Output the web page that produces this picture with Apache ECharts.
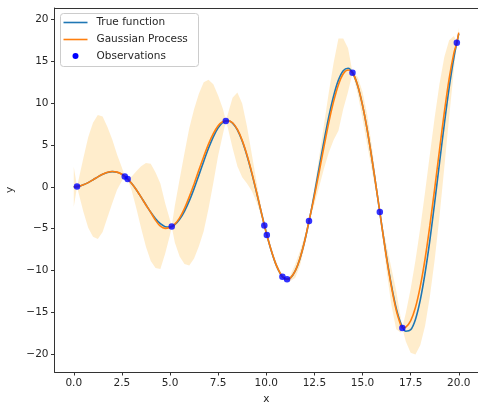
<!DOCTYPE html>
<html><head><meta charset="utf-8">
<script src="https://cdn.jsdelivr.net/npm/echarts@6/dist/echarts.min.js"></script>
<style>html,body{margin:0;padding:0;background:#fff}#c{width:478px;height:406px}</style>
</head><body><div id="c"></div>
<script>
// True function samples
const trueX = [0,0.25,0.5,0.75,1,1.25,1.5,1.75,2,2.25,2.5,2.75,3,3.25,3.5,3.75,4,4.25,4.5,4.75,5,5.25,5.5,5.75,6,6.25,6.5,6.75,7,7.25,7.5,7.75,8,8.25,8.5,8.75,9,9.25,9.5,9.75,10,10.25,10.5,10.75,11,11.25,11.5,11.75,12,12.25,12.5,12.75,13,13.25,13.5,13.75,14,14.25,14.5,14.75,15,15.25,15.5,15.75,16,16.25,16.5,16.75,17,17.25,17.5,17.75,18,18.25,18.5,18.75,19,19.25,19.5,19.75,20];
const trueY = [0,0.06,0.24,0.51,0.84,1.19,1.50,1.72,1.82,1.75,1.50,1.05,0.42,-0.35,-1.23,-2.14,-3.03,-3.80,-4.40,-4.75,-4.79,-4.51,-3.88,-2.92,-1.68,-0.21,1.40,3.04,4.60,5.97,7.04,7.71,7.92,7.61,6.79,5.47,3.71,1.61,-0.71,-3.12,-5.44,-7.53,-9.24,-10.43,-11.00,-10.89,-10.07,-8.57,-6.44,-3.81,-0.83,2.33,5.46,8.37,10.85,12.74,13.87,14.16,13.56,12.07,9.75,6.75,3.20,-0.66,-4.61,-8.39,-11.74,-14.48,-16.34,-17.24,-17.07,-15.82,-13.52,-10.31,-6.35,-1.86,2.85,7.50,11.81,15.47,18.26];

// Gaussian process prediction and its confidence band
const gpX = [0,0.17,0.25,0.5,0.75,1,1.25,1.5,1.75,2,2.25,2.5,2.65,2.75,2.8,3,3.25,3.5,3.75,4,4.25,4.5,4.75,5,5.09,5.25,5.5,5.75,6,6.25,6.5,6.75,7,7.25,7.5,7.75,7.9,8,8.25,8.5,8.75,9,9.25,9.5,9.75,9.9,10.03,10.25,10.5,10.75,10.84,11,11.08,11.25,11.5,11.75,12,12.22,12.5,12.75,13,13.25,13.5,13.75,14,14.25,14.48,14.75,15,15.25,15.5,15.75,15.9,16,16.25,16.5,16.75,17,17.07,17.25,17.5,17.75,18,18.25,18.5,18.75,19,19.25,19.5,19.75,19.9,20];
const gpMean = [0,0.03,0.06,0.24,0.51,0.84,1.19,1.50,1.74,1.84,1.76,1.50,1.25,1.05,0.94,0.42,-0.35,-1.23,-2.16,-3.05,-4.0,-4.7,-4.95,-4.85,-4.72,-4.45,-3.7,-2.6,-1.2,0.35,2.0,3.6,5.1,6.35,7.3,7.8,7.86,7.88,7.65,6.85,5.55,3.8,1.7,-0.65,-3.1,-4.6,-5.75,-7.5,-9.22,-10.43,-10.72,-11.0,-11.04,-10.9,-10.07,-8.55,-6.44,-4.08,-1.1,1.8,4.8,7.7,10.2,12.2,13.5,13.95,13.62,12.1,9.75,6.75,3.2,-0.66,-3.0,-4.65,-8.5,-11.9,-14.7,-16.6,-16.85,-16.75,-16.0,-14.4,-11.9,-8.6,-4.6,-0.2,4.4,8.9,12.9,16.0,17.2,18.4];
const gpLower = [-2.4,-0.02,-0.74,-2.96,-4.89,-5.96,-6.21,-5.4,-3.66,-1.96,-0.34,0.7,1.2,1.0,0.89,-0.38,-2.55,-4.93,-7.16,-8.85,-9.7,-9.8,-7.95,-5.75,-4.77,-6.65,-8.3,-9.2,-9.4,-8.55,-7.1,-5.3,-2.6,0.45,3.7,6.3,7.81,7.08,4.65,2.45,1.15,0.4,-0.5,-1.85,-3.6,-4.65,-5.8,-7.8,-9.62,-10.63,-10.77,-11.05,-11.09,-11.25,-10.87,-9.45,-7.04,-4.13,-2.1,0.0,2.2,4.1,5.6,6.7,9.3,11.35,13.57,11.1,8.15,4.95,1.8,-1.26,-3.05,-5.15,-10.0,-14.1,-17.0,-17.4,-16.9,-18.45,-19.8,-20.0,-18.9,-16.6,-13.1,-8.7,-3.5,2.3,8.3,14.0,17.15,17.8];
const gpUpper = [2.4,0.08,0.86,3.44,5.91,7.64,8.59,8.4,7.14,5.64,3.86,2.3,1.3,1.1,0.99,1.22,1.85,2.47,2.84,2.75,1.7,0.4,-1.95,-3.95,-4.67,-2.25,0.9,4.0,7.0,9.25,11.1,12.5,12.8,12.25,10.9,9.3,7.91,8.68,10.65,11.25,9.95,7.2,3.9,0.55,-2.6,-4.55,-5.7,-7.2,-8.82,-10.23,-10.67,-10.95,-10.99,-10.55,-9.27,-7.65,-5.84,-4.03,-0.1,3.6,7.4,11.3,14.8,17.7,17.7,16.55,13.67,13.1,11.35,8.55,4.6,-0.06,-2.95,-4.15,-7.0,-9.7,-12.4,-15.8,-16.8,-15.05,-12.2,-8.8,-4.9,-0.6,3.9,8.3,12.3,15.5,17.5,18.0,17.25,19.0];

// Observations
const obsX = [0.17,2.65,2.8,5.09,7.9,9.9,10.03,10.84,11.08,12.22,14.48,15.9,17.07,19.9];
const obsY = [0.03,1.25,0.94,-4.72,7.86,-4.6,-5.75,-10.72,-11.04,-4.08,13.62,-3.0,-16.85,17.2];

// Ticks and labels
const xTicks = [0,2.5,5,7.5,10,12.5,15,17.5,20];
const yTicks = [-20,-15,-10,-5,0,5,10,15,20];
const legendLabels = ['True function','Gaussian Process','Observations'];

const FONT = 'DejaVu Sans';
const FS = 10.5;
const TXT = '#262626';
const sgn = s => s.replace('-', '\u2212');

const chart = echarts.init(document.getElementById('c'), null, {renderer: 'canvas'});

const band = gpX.map((x, i) => [x, gpLower[i], gpUpper[i]]);

const option = {
  animation: false,
  backgroundColor: '#fff',
  grid: {left: 54.5, right: 0, top: 8, bottom: 34, containLabel: false, outerBoundsMode: 'none', show: false},
  xAxis: [{
    type: 'value', min: -1, max: 21,
    name: 'x', nameLocation: 'middle', nameGap: 21,
    nameTextStyle: {fontFamily: FONT, fontSize: FS, color: TXT},
    axisLine: {show: true, onZero: false, lineStyle: {color: '#333', width: 1}},
    axisTick: {show: true, inside: false, length: 3.5, lineStyle: {color: '#333', width: 1}, customValues: xTicks},
    axisLabel: {show: true, margin: 6, fontFamily: FONT, fontSize: FS, color: TXT, customValues: xTicks,
                formatter: v => sgn(Number(v).toFixed(1))},
    splitLine: {show: false}
  }, {
    type: 'value', min: -1, max: 21, position: 'top',
    axisLine: {show: true, onZero: false, lineStyle: {color: '#333', width: 1}},
    axisTick: {show: false}, axisLabel: {show: false}, splitLine: {show: false}
  }],
  yAxis: {
    type: 'value', min: -22.1, max: 21.35,
    name: 'y', nameLocation: 'middle', nameGap: 35, nameRotate: 90,
    nameTextStyle: {fontFamily: FONT, fontSize: FS, color: TXT},
    axisLine: {show: true, onZero: false, lineStyle: {color: '#333', width: 1}},
    axisTick: {show: true, inside: false, length: 3.5, lineStyle: {color: '#333', width: 1}, customValues: yTicks},
    axisLabel: {show: true, margin: 6, fontFamily: FONT, fontSize: FS, color: TXT, customValues: yTicks,
                formatter: v => sgn(String(Math.round(v)))},
    splitLine: {show: false}
  },
  series: [
    {
      type: 'custom', name: 'band', z: 1, silent: true, clip: true,
      data: band, encode: {x: 0, y: [1, 2]},
      renderItem: (params, api) => {
        if (params.dataIndex !== 0) return null;
        const pts = [];
        for (let i = 0; i < gpX.length; i++) pts.push(api.coord([gpX[i], gpUpper[i]]));
        for (let i = gpX.length - 1; i >= 0; i--) pts.push(api.coord([gpX[i], gpLower[i]]));
        return {type: 'polygon', shape: {points: pts}, style: {fill: 'rgba(255,165,0,0.2)', stroke: null}};
      }
    },
    {
      type: 'line', name: legendLabels[0], z: 2, symbol: 'none', showSymbol: false, smooth: 0.3,
      data: trueX.map((x, i) => [x, trueY[i]]),
      lineStyle: {color: '#1f77b4', width: 1.6}
    },
    {
      type: 'line', name: legendLabels[1], z: 3, symbol: 'none', showSymbol: false, smooth: 0.3,
      data: gpX.map((x, i) => [x, gpMean[i]]),
      lineStyle: {color: '#ff7f0e', width: 1.6}
    },
    {
      type: 'scatter', name: legendLabels[2], z: 4, symbol: 'circle', symbolSize: 6.5,
      data: obsX.map((x, i) => [x, obsY[i]]),
      itemStyle: {color: '#0000ff'}
    }
  ],
  graphic: [{
    type: 'group', left: 60, top: 13, z: 100,
    children: [
      {type: 'rect', shape: {x: 0, y: 0, width: 138, height: 53, r: 3},
       style: {fill: 'rgba(255,255,255,0.85)', stroke: '#cccccc', lineWidth: 1}},
      {type: 'line', shape: {x1: 3, y1: 9, x2: 27, y2: 9}, style: {stroke: '#1f77b4', lineWidth: 1.6}},
      {type: 'line', shape: {x1: 3, y1: 26, x2: 27, y2: 26}, style: {stroke: '#ff7f0e', lineWidth: 1.6}},
      {type: 'circle', shape: {cx: 15, cy: 42.5, r: 3}, style: {fill: '#0000ff'}},
      {type: 'text', x: 36, y: 9, style: {text: legendLabels[0], font: FS + 'px "' + FONT + '"', fill: TXT, verticalAlign: 'middle'}},
      {type: 'text', x: 36, y: 26, style: {text: legendLabels[1], font: FS + 'px "' + FONT + '"', fill: TXT, verticalAlign: 'middle'}},
      {type: 'text', x: 36, y: 42.5, style: {text: legendLabels[2], font: FS + 'px "' + FONT + '"', fill: TXT, verticalAlign: 'middle'}}
    ]
  }]
};
chart.setOption(option);
</script></body></html>
